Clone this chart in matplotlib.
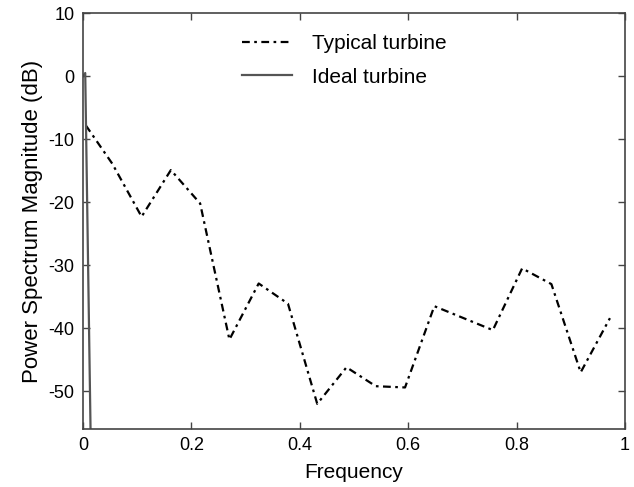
import matplotlib
matplotlib.use("Agg")
import matplotlib.pyplot as plt

plt.rcParams['font.family'] = ['Liberation Sans', 'DejaVu Sans']
plt.rcParams['axes.unicode_minus'] = False

# typical turbine spectrum
freq_typical = [0.005, 0.054, 0.108, 0.162, 0.216, 0.270, 0.324, 0.378, 0.432,
                0.486, 0.540, 0.594, 0.648, 0.702, 0.756, 0.810, 0.864, 0.918, 0.972]
mag_typical = [-7.8, -13.9, -22.3, -14.9, -20.2, -41.8, -32.9, -36.1, -52.0,
               -46.2, -49.2, -49.4, -36.5, -38.4, -40.3, -30.5, -33.0, -47.0, -38.4]

# ideal turbine: one spike at zero frequency
freq_ideal = [0.0, 0.004, 0.0145]
mag_ideal = [0.0, 0.5, -60.0]

xticks = [0, 0.2, 0.4, 0.6, 0.8, 1]
xticklabels = ['0', '0.2', '0.4', '0.6', '0.8', '1']
yticks = [-50, -40, -30, -20, -10, 0, 10]

fig = plt.figure(figsize=(6.34, 4.87), dpi=100)
ax = fig.add_axes([0.131, 0.119, 0.855, 0.854])

ax.plot(freq_typical, mag_typical, color='black', lw=1.6,
        dashes=(3.5, 2, 1.2, 2), label='Typical turbine')
ax.plot(freq_ideal, mag_ideal, color='#555555', lw=1.6, label='Ideal turbine')

ax.set_xlim(0, 1)
ax.set_ylim(-56, 10)
ax.set_xticks(xticks)
ax.set_xticklabels(xticklabels)
ax.set_yticks(yticks)
ax.tick_params(direction='in', top=True, right=True, length=5, width=1,
               color='#444444', labelsize=13, pad=6)
for s in ax.spines.values():
    s.set_color('#444444')
    s.set_linewidth(1.2)

ax.set_xlabel('Frequency', fontsize=15, labelpad=6)
ax.set_ylabel('Power Spectrum Magnitude (dB)', fontsize=16, labelpad=4)

ax.legend(loc='upper left', bbox_to_anchor=(0.258, 0.995), frameon=False,
          fontsize=15, handlelength=2.4, handletextpad=1.0, labelspacing=0.7)

fig.savefig('out.png', dpi=100)
